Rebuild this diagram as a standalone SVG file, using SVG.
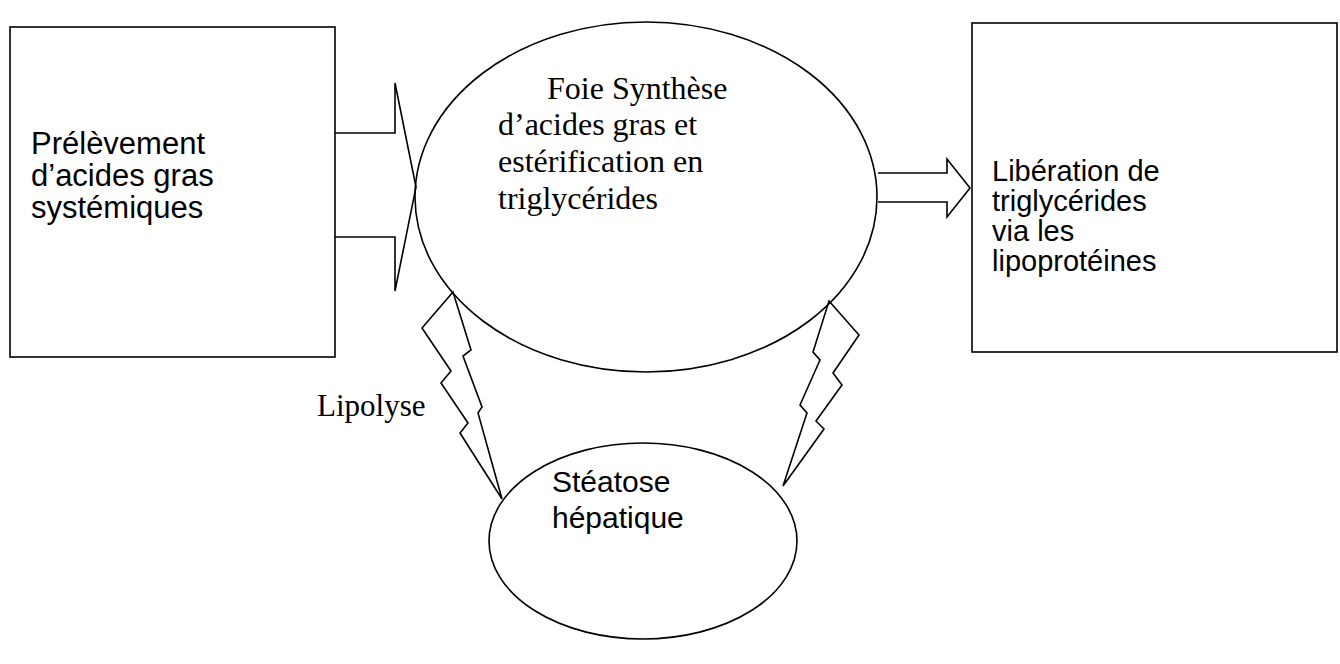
<svg xmlns="http://www.w3.org/2000/svg" width="1340" height="664" viewBox="0 0 1340 664">
<style>
.s{fill:none;stroke:#000;stroke-width:1.6;stroke-linejoin:miter}
.a{font-family:"Liberation Sans",Arial,sans-serif;fill:#000}
.t{font-family:"Liberation Serif","Times New Roman",serif;fill:#000}
</style>
<rect width="1340" height="664" fill="#fff"/>
<g id="connectors">
<polyline class="s" points="335,133 395,133 395,83 416,187 395,291 395,237 335,237"/>
<polyline class="s" points="878,173 947,173 947,159 970,188 947,217 947,202 878,202"/>
<polygon class="s" points="453,292 422,328 451,371 441,383 468,423 460,433 502,499 478,413 482,407 463,356 471,350"/>
<polygon class="s" points="829,301 859,335 833,373 842,385 816,421 824,429 783,486 807,413 800,405 820,360 813,352"/>
<text class="t" x="317" y="416" font-size="31">Lipolyse</text>
</g>
<g id="prelevement">
<rect class="s" x="10" y="27" width="325" height="330"/>
<text class="a" font-size="31"><tspan x="31" y="154">Prélèvement</tspan><tspan x="31" y="186">d’acides gras</tspan><tspan x="31" y="218">systémiques</tspan></text>
</g>
<g id="foie">
<ellipse class="s" cx="646" cy="197" rx="231" ry="175"/>
<text class="t" font-size="32"><tspan x="547" y="99">Foie Synthèse</tspan><tspan x="498" y="135">d’acides gras et</tspan><tspan x="498" y="172">estérification en</tspan><tspan x="498" y="209">triglycérides</tspan></text>
</g>
<g id="liberation">
<rect class="s" x="972" y="23" width="365" height="329"/>
<text class="a" font-size="29"><tspan x="992" y="181">Libération de</tspan><tspan x="992" y="211">triglycérides</tspan><tspan x="992" y="241">via les</tspan><tspan x="992" y="271">lipoprotéines</tspan></text>
</g>
<g id="steatose">
<ellipse class="s" cx="643" cy="541" rx="154" ry="98"/>
<text class="a" font-size="30"><tspan x="552" y="492">Stéatose</tspan><tspan x="552" y="528">hépatique</tspan></text>
</g>
</svg>
